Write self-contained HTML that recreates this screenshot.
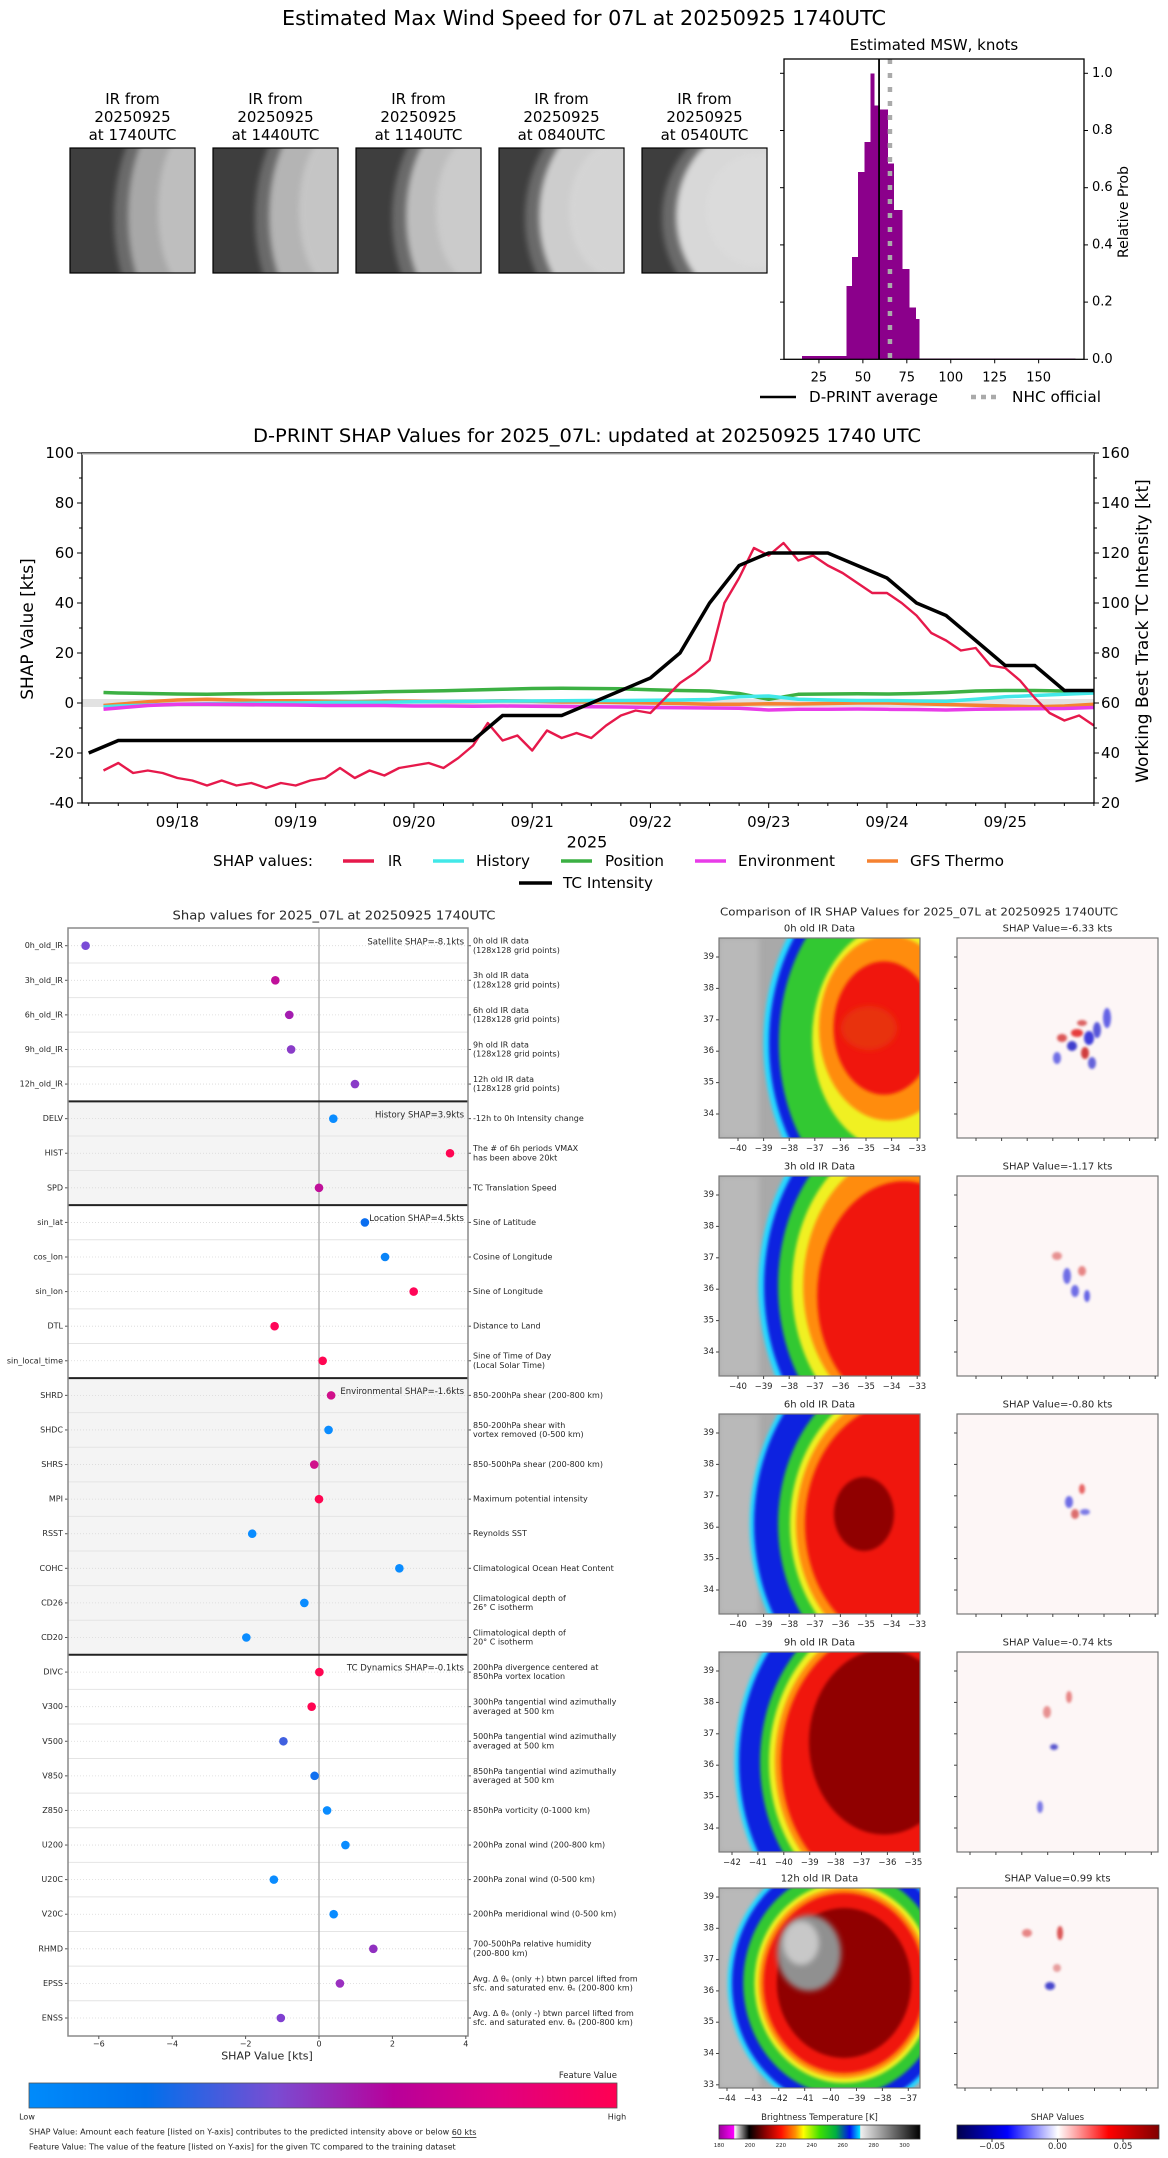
<!DOCTYPE html>
<html><head><meta charset="utf-8">
<style>
html,body{margin:0;padding:0;background:#fff}
svg{display:block}
text{font-family:"DejaVu Sans","Liberation Sans",sans-serif;fill:#000}
.g text{fill:#262626}
</style></head>
<body>
<svg id="root" width="1168" height="2158" viewBox="0 0 1168 2158" xmlns="http://www.w3.org/2000/svg">
<defs>
<filter id="blur3" x="-20%" y="-20%" width="140%" height="140%"><feGaussianBlur stdDeviation="3"/></filter>
<filter id="blur2" x="-20%" y="-20%" width="140%" height="140%"><feGaussianBlur stdDeviation="1.6"/></filter>
<filter id="blur1" x="-50%" y="-50%" width="200%" height="200%"><feGaussianBlur stdDeviation="1.2"/></filter>
<linearGradient id="featGrad" x1="0" x2="1" y1="0" y2="0">
<stop offset="0" stop-color="#008bfb"/><stop offset="0.2" stop-color="#0070ec"/><stop offset="0.42" stop-color="#7a4cd2"/><stop offset="0.62" stop-color="#b8009a"/><stop offset="0.8" stop-color="#e00080"/><stop offset="1" stop-color="#ff0052"/>
</linearGradient>
<linearGradient id="btGrad" x1="0" x2="1" y1="0" y2="0">
<stop offset="0" stop-color="#9a009a"/><stop offset="0.075" stop-color="#ff00ff"/><stop offset="0.077" stop-color="#ffffff"/><stop offset="0.15" stop-color="#000000"/><stop offset="0.23" stop-color="#8b0000"/><stop offset="0.31" stop-color="#ff1000"/><stop offset="0.38" stop-color="#ff9000"/><stop offset="0.42" stop-color="#ffff00"/><stop offset="0.5" stop-color="#40e000"/><stop offset="0.58" stop-color="#00b040"/><stop offset="0.65" stop-color="#0010f0"/><stop offset="0.7" stop-color="#00e0ff"/><stop offset="0.705" stop-color="#f0f0f0"/><stop offset="1" stop-color="#000000"/>
</linearGradient>
<linearGradient id="seisGrad" x1="0" x2="1" y1="0" y2="0">
<stop offset="0" stop-color="#00004c"/><stop offset="0.25" stop-color="#0000ff"/><stop offset="0.5" stop-color="#ffffff"/><stop offset="0.75" stop-color="#ff0000"/><stop offset="1" stop-color="#800000"/>
</linearGradient>
<clipPath id="shapClip"><rect x="82" y="453" width="1012" height="350"/></clipPath>
</defs>

<text x="584" y="25" font-size="20" text-anchor="middle" textLength="604" lengthAdjust="spacingAndGlyphs">Estimated Max Wind Speed for 07L at 20250925 1740UTC</text>

<g id="irThumbs"></g>
<g id="hist"></g>
<g id="shapTS"></g>
<g id="shapFeat" class="g"></g>
<g id="irComp" class="g"></g>
</svg>
<script>
// ---------- data ----------
const histEdges=[15.4,40.6,43.8,47.2,50.8,54.2,56.3,59.4,64.1,67.5,72.3,76.2,80.0,81.9,170.7];
const histProbs=[0.012,0.256,0.358,0.655,0.76,1.0,0.887,0.873,0.685,0.522,0.316,0.181,0.141,0.0035];
const histXTicks=[25,50,75,100,125,150];
const histYTicks=[0,0.2,0.4,0.6,0.8,1.0];
const dprintAverage=[59.2];
const nhcOfficial=[65.4];

const dateLabels=['09/18','09/19','09/20','09/21','09/22','09/23','09/24','09/25'];
const leftTicks=[-40,-20,0,20,40,60,80,100];
const rightTicks=[20,40,60,80,100,120,140,160];
const irStart=0.375, irStep=0.125;
const irShap=[-27,-24,-28,-27,-28,
 -30,-31,-33,-31,-33,-32,-34,-32,
 -33,-31,-30,-26,-30,-27,-29,-26,
 -25,-24,-26,-22,-17,-8,-15,-13,
 -19,-11,-14,-12,-14,-9,-5,-3,
 -4,2,8,12,17,40,50,62,
 59,64,57,59,55,52,48,44,
 44,40,35,28,25,21,22,15,
 14,9,2,-4,-7,-5,-9];
const lineTimes=[0.375,0.5,0.75,1,1.25,1.5,1.75,2,2.25,2.5,2.75,3,3.25,3.5,3.75,4,4.25,4.5,4.75,5,5.25,5.5,5.75,6,6.25,6.5,6.75,7,7.25,7.5,7.75,8,8.25,8.5,8.75];
const positionShap=[4.2,4.0,3.8,3.6,3.5,3.7,3.8,3.9,4.0,4.2,4.5,4.7,4.9,5.2,5.5,5.8,5.9,5.8,5.7,5.3,5.0,4.8,3.8,1.5,3.5,3.6,3.7,3.6,3.8,4.2,4.8,5.0,5.0,4.8,4.6];
const historyShap=[-1.5,-1.2,-0.8,-0.5,-0.3,-0.2,0,0,0.2,0.3,0.3,0.5,0.6,0.7,0.8,0.8,0.9,1.0,1.0,1.1,1.2,1.4,2.5,2.8,1.5,1.2,1.0,1.0,0.8,0.7,1.5,2.5,3.0,3.5,4.0];
const envShap=[-2.5,-2,-1,-0.5,-0.5,-0.6,-0.7,-0.8,-1,-1,-1,-1.2,-1.2,-1.3,-1.2,-1.3,-1.4,-1.5,-1.6,-1.8,-1.9,-2,-2.1,-2.8,-2.5,-2.5,-2.4,-2.5,-2.6,-2.8,-2.5,-2.4,-2.3,-2.2,-1.8];
const gfsShap=[-1,-0.5,0.5,1.2,1.5,1.2,0.9,0.9,0.7,0.5,0.8,0.7,0.5,0.6,0.9,0.7,0.4,0.4,0.2,0,-0.2,-0.5,-0.5,-0.3,-0.4,-0.2,0,0,-0.3,-0.6,-0.9,-1.2,-1.5,-1.2,-0.5];
const tcTimes=[0.25,0.5,3.5,3.75,4.25,5,5.25,5.5,5.75,6,6.5,7,7.25,7.5,7.75,8,8.25,8.5,8.75];
const tcIntensity=[40,45,45,55,55,70,80,100,115,120,120,110,100,95,85,75,75,65,65];

const featNames=['0h_old_IR','3h_old_IR','6h_old_IR','9h_old_IR','12h_old_IR','DELV','HIST','SPD','sin_lat','cos_lon','sin_lon','DTL','sin_local_time','SHRD','SHDC','SHRS','MPI','RSST','COHC','CD26','CD20','DIVC','V300','V500','V850','Z850','U200','U20C','V20C','RHMD','EPSS','ENSS'];
const featShap=[-6.36,-1.19,-0.81,-0.76,0.98,0.39,3.57,0,1.25,1.8,2.58,-1.21,0.1,0.33,0.26,-0.13,0,-1.82,2.19,-0.4,-1.98,0.01,-0.2,-0.97,-0.12,0.22,0.72,-1.23,0.4,1.48,0.57,-1.04];
const featColors=['#7a4cd6','#c0109a','#a41cb0','#8a3cc8','#8a3cc8','#0a8cff','#ff0552','#c0109a','#0a6ef0','#0a84f8','#ff0558','#ff0558','#ff0552','#d0108a','#0a8cff','#d0108a','#ff0552','#0a8cff','#0a8cff','#0a8cff','#0a8cff','#ff0552','#ff0552','#4060e0','#1070f0','#0a8cff','#0a8cff','#0a8cff','#0a8cff','#9030c0','#9a30c0','#8040d0'];
const featDescs=['0h old IR data\n(128x128 grid points)','3h old IR data\n(128x128 grid points)','6h old IR data\n(128x128 grid points)','9h old IR data\n(128x128 grid points)','12h old IR data\n(128x128 grid points)','-12h to 0h Intensity change','The # of 6h periods VMAX\nhas been above 20kt','TC Translation Speed','Sine of Latitude','Cosine of Longitude','Sine of Longitude','Distance to Land','Sine of Time of Day\n(Local Solar Time)','850-200hPa shear (200-800 km)','850-200hPa shear with\nvortex removed (0-500 km)','850-500hPa shear (200-800 km)','Maximum potential intensity','Reynolds SST','Climatological Ocean Heat Content','Climatological depth of\n26° C isotherm','Climatological depth of\n20° C isotherm','200hPa divergence centered at\n850hPa vortex location','300hPa tangential wind azimuthally\naveraged at 500 km','500hPa tangential wind azimuthally\naveraged at 500 km','850hPa tangential wind azimuthally\naveraged at 500 km','850hPa vorticity (0-1000 km)','200hPa zonal wind (200-800 km)','200hPa zonal wind (0-500 km)','200hPa meridional wind (0-500 km)','700-500hPa relative humidity\n(200-800 km)','Avg. Δ θₑ (only +) btwn parcel lifted from\nsfc. and saturated env. θₑ (200-800 km)','Avg. Δ θₑ (only -) btwn parcel lifted from\nsfc. and saturated env. θₑ (200-800 km)'];
const sectionLabels=['Satellite SHAP=-8.1kts','History SHAP=3.9kts','Location SHAP=4.5kts','Environmental SHAP=-1.6kts','TC Dynamics SHAP=-0.1kts'];
const sectionStarts=[0,5,8,13,21];
const sectionShaded=[false,true,false,true,false];
const featXTicks=[-6,-4,-2,0,2,4];

const irRowTitles=['0h old IR Data','3h old IR Data','6h old IR Data','9h old IR Data','12h old IR Data'];
const irRowShap=[-6.33,-1.17,-0.80,-0.74,0.99];
const irRowLonStart=[-40,-40,-40,-42,-44];
const irRowLatTop=[39,39,39,39,39];
const irRowLatCount=[6,6,6,6,7];
const btTicks=[180,200,220,240,260,280,300];
const seisTicks=[-0.05,0,0.05];

// ---------- helpers ----------
const NS='http://www.w3.org/2000/svg';
function mk(parent,tag,attrs,name,txt){
  const e=document.createElementNS(NS,tag);
  for(const k in attrs) e.setAttribute(k,attrs[k]);
  
  
  if(txt!==undefined) e.textContent=txt;
  parent.appendChild(e);
  return e;
}
function fmtMinus(v){return String(v).replace('-','\u2212');}

// ---------- IR thumbnails ----------
(function(){
  const g=document.getElementById('irThumbs');
  const xs=[70,213,356,499,642];
  const times=['1740','1440','1140','0840','0540'];
  const light=['#a8a8a8','#b4b4b4','#bdbdbd','#cdcdcd','#d8d8d8'];
  const cxs=[98,100,100,96,92], rxs=[62,66,72,78,80], rys=[120,118,115,108,96];
  for(let i=0;i<5;i++){
    const x0=xs[i], y0=148;
    const cid='thumbClip'+i;
    const cp=mk(g,'clipPath',{id:cid},'thumb-clip');
    mk(cp,'rect',{x:x0,y:y0,width:125,height:125},'thumb-clip-rect');
    const ig=mk(g,'g',{'clip-path':'url(#'+cid+')'},'ir-thumbnail-'+i);
    mk(ig,'rect',{x:x0,y:y0,width:125,height:125,fill:'#3e3e3e'},'thumb-bg');
    mk(ig,'ellipse',{cx:x0+cxs[i]+8,cy:y0+70,rx:rxs[i],ry:rys[i],fill:'#6a6a6a',filter:'url(#blur3)'},'thumb-cloud-edge');
    mk(ig,'ellipse',{cx:x0+cxs[i]+14,cy:y0+68,rx:rxs[i]-8,ry:rys[i]-8,fill:light[i],filter:'url(#blur3)'},'thumb-cloud');
    mk(ig,'ellipse',{cx:x0+cxs[i]+22,cy:y0+62,rx:rxs[i]-30,ry:rys[i]-40,fill:'#e0e0e0',opacity:0.4,filter:'url(#blur3)'},'thumb-cloud-core');
    mk(g,'rect',{x:x0,y:y0,width:125,height:125,fill:'none',stroke:'#000','stroke-width':1.2},'thumb-frame');
    const cx=x0+62.5;
    mk(g,'text',{x:cx,y:104,'font-size':15,'text-anchor':'middle'},'thumb-label-line1','IR from');
    mk(g,'text',{x:cx,y:122,'font-size':15,'text-anchor':'middle'},'thumb-label-line2','20250925');
    mk(g,'text',{x:cx,y:140,'font-size':15,'text-anchor':'middle'},'thumb-label-line3','at '+times[i]+'UTC');
  }
})();

// ---------- histogram ----------
(function(){
  const g=document.getElementById('hist');
  const hx=v=>775+v*1.7576, hy=p=>359.3-p*286;
  const L=784,R=1084,T=59,B=359.3;
  mk(g,'text',{x:934,y:50,'font-size':15,'text-anchor':'middle'},'histogram-title','Estimated MSW, knots');
  for(let i=0;i<histProbs.length;i++){
    const x1=hx(histEdges[i]), x2=hx(histEdges[i+1]);
    const r=mk(g,'rect',{x:x1,y:hy(histProbs[i]),width:x2-x1+0.4,height:B-hy(histProbs[i]),fill:'#8b008b','shape-rendering':'crispEdges'},'hist-bar');
  }
  mk(g,'line',{x1:hx(dprintAverage[0]),x2:hx(dprintAverage[0]),y1:T,y2:B,stroke:'#000','stroke-width':1.8},'dprint-average-line');
  mk(g,'line',{x1:hx(nhcOfficial[0]),x2:hx(nhcOfficial[0]),y1:T,y2:B,stroke:'#aaa','stroke-width':4.5,'stroke-dasharray':'5 9'},'nhc-official-line');
  mk(g,'rect',{x:L,y:T,width:R-L,height:B-T,fill:'none',stroke:'#000','stroke-width':1.3},'histogram-frame');
  histXTicks.forEach(v=>{
    mk(g,'line',{x1:hx(v),x2:hx(v),y1:B,y2:B+4,stroke:'#000'},'hist-x-tick');
    mk(g,'text',{x:hx(v),y:378,'font-size':13,'text-anchor':'middle','dominant-baseline':'central'},'hist-x-tick-label',String(v));
  });
  histYTicks.forEach(v=>{
    mk(g,'line',{x1:R,x2:R+4,y1:hy(v),y2:hy(v),stroke:'#000'},'hist-y-tick');
    mk(g,'line',{x1:L,x2:L-4,y1:hy(v),y2:hy(v),stroke:'#000'},'hist-y-tick-left');
    mk(g,'text',{x:R+8,y:hy(v),'font-size':13,'dominant-baseline':'central'},'hist-y-tick-label',v.toFixed(1));
  });
  mk(g,'text',{x:1124,y:212,'font-size':14,'text-anchor':'middle',transform:'rotate(-90 1124 212)','dominant-baseline':'central'},'hist-y-axis-title','Relative Prob');
  mk(g,'line',{x1:760,x2:796,y1:397,y2:397,stroke:'#000','stroke-width':2.5},'legend-dprint-swatch');
  mk(g,'text',{x:809,y:397,'font-size':15,'dominant-baseline':'central',textLength:129,lengthAdjust:'spacingAndGlyphs'},'legend-dprint-label','D-PRINT average');
  mk(g,'line',{x1:971,x2:1000,y1:397,y2:397,stroke:'#aaa','stroke-width':4.5,'stroke-dasharray':'5 5'},'legend-nhc-swatch');
  mk(g,'text',{x:1012,y:397,'font-size':15,'dominant-baseline':'central',textLength:89,lengthAdjust:'spacingAndGlyphs'},'legend-nhc-label','NHC official');
})();

// ---------- SHAP timeseries ----------
(function(){
  const g=document.getElementById('shapTS');
  const L=82,R=1094,T=453,B=803;
  const tx=t=>177.4+(t-1)*118.26;
  const yl=v=>B-(v+40)*2.5;
  const yr=k=>yl(k-60);
  mk(g,'text',{x:587,y:436,'font-size':19,'text-anchor':'middle','dominant-baseline':'central',textLength:668,lengthAdjust:'spacingAndGlyphs'},'timeseries-title','D-PRINT SHAP Values for 2025_07L: updated at 20250925 1740 UTC');
  mk(g,'rect',{x:L,y:yl(1.6),width:R-L,height:yl(-1.6)-yl(1.6),fill:'#e2e2e2'},'zero-band');
  const cg=mk(g,'g',{'clip-path':'url(#shapClip)'},'series-layer');
  function line(ts,vs,color,w,name){
    const pts=ts.map((t,i)=>tx(t).toFixed(1)+','+yl(vs[i]).toFixed(1));
    mk(cg,'path',{d:'M'+pts.join('L'),fill:'none',stroke:color,'stroke-width':w,'stroke-linejoin':'round'},name);
  }
  const irTimes=irShap.map((v,i)=>irStart+i*irStep);
  line(lineTimes,positionShap,'#3cb043',3.5,'position-line');
  line(lineTimes,gfsShap,'#f58231',3.5,'gfs-thermo-line');
  line(lineTimes,historyShap,'#42e8e8',3.5,'history-line');
  line(lineTimes,envShap,'#e83ce8',3.5,'environment-line');
  line(irTimes,irShap,'#e6194b',2.4,'ir-line');
  const tcPts=tcTimes.map((t,i)=>tx(t).toFixed(1)+','+yr(tcIntensity[i]).toFixed(1));
  mk(cg,'path',{d:'M'+tcPts.join('L'),fill:'none',stroke:'#000','stroke-width':3.5},'tc-intensity-line');
  mk(g,'rect',{x:L,y:T,width:R-L,height:B-T,fill:'none',stroke:'#000','stroke-width':1.3},'timeseries-frame');
  mk(g,'line',{x1:L,x2:R,y1:T+1,y2:T+1,stroke:'#ccc','stroke-width':1.5},'top-frame-shadow');
  for(let v=-40;v<=100;v+=10){
    const len=(v%20===0)?5:3;
    mk(g,'line',{x1:L-len,x2:L,y1:yl(v),y2:yl(v),stroke:'#000'},'left-y-tick');
  }
  leftTicks.forEach(v=>mk(g,'text',{x:L-8,y:yl(v),'font-size':15,'text-anchor':'end','dominant-baseline':'central'},'left-y-tick-label',String(v)));
  for(let k=20;k<=160;k+=10){
    const len=(k%20===0)?5:3;
    mk(g,'line',{x1:R,x2:R+len,y1:yr(k),y2:yr(k),stroke:'#000'},'right-y-tick');
  }
  rightTicks.forEach(k=>mk(g,'text',{x:R+7,y:yr(k),'font-size':15,'dominant-baseline':'central'},'right-y-tick-label',String(k)));
  for(let t=0.25;t<=8.75;t+=0.25){
    const major=Math.abs(t-Math.round(t))<1e-6;
    mk(g,'line',{x1:tx(t),x2:tx(t),y1:B,y2:B+(major?5:3),stroke:'#000'},'x-tick');
  }
  dateLabels.forEach((d,i)=>mk(g,'text',{x:tx(i+1),y:822,'font-size':15,'text-anchor':'middle','dominant-baseline':'central'},'x-tick-label',d));
  mk(g,'text',{x:587,y:842,'font-size':16,'text-anchor':'middle','dominant-baseline':'central'},'x-axis-title','2025');
  mk(g,'text',{x:28,y:629,'font-size':17,'text-anchor':'middle','dominant-baseline':'central',transform:'rotate(-90 28 629)'},'left-y-axis-title','SHAP Value [kts]');
  mk(g,'text',{x:1143,y:631,'font-size':17,'text-anchor':'middle','dominant-baseline':'central',transform:'rotate(-90 1143 631)'},'right-y-axis-title','Working Best Track TC Intensity [kt]');
  mk(g,'text',{x:213,y:861,'font-size':15,'dominant-baseline':'central',textLength:100,lengthAdjust:'spacingAndGlyphs'},'legend-title','SHAP values:');
  const leg=[['IR','#e6194b',343,388,14],['History','#42e8e8',433,476,54],['Position','#3cb043',561,605,59],['Environment','#e83ce8',695,738,97],['GFS Thermo','#f58231',867,910,94]];
  leg.forEach(l=>{
    mk(g,'line',{x1:l[2],x2:l[2]+31,y1:861,y2:861,stroke:l[1],'stroke-width':3.5},'legend-swatch-'+l[0].toLowerCase().replace(' ','-'));
    mk(g,'text',{x:l[3],y:861,'font-size':15,'dominant-baseline':'central',textLength:l[4],lengthAdjust:'spacingAndGlyphs'},'legend-label-'+l[0].toLowerCase().replace(' ','-'),l[0]);
  });
  mk(g,'line',{x1:519,x2:552,y1:883,y2:883,stroke:'#000','stroke-width':3.5},'legend-swatch-tc-intensity');
  mk(g,'text',{x:563,y:883,'font-size':15,'dominant-baseline':'central',textLength:90,lengthAdjust:'spacingAndGlyphs'},'legend-label-tc-intensity','TC Intensity');
})();

// ---------- feature SHAP panel ----------
(function(){
  const g=document.getElementById('shapFeat');
  const L=68,R=468,T=928,B=2036;
  const sx=v=>319+v*36.7;
  const ry=i=>945.7+i*34.59;
  mk(g,'text',{x:334,y:915,'font-size':12.5,'text-anchor':'middle','dominant-baseline':'central',textLength:323,lengthAdjust:'spacingAndGlyphs'},'feature-panel-title','Shap values for 2025_07L at 20250925 1740UTC');
  for(let s=0;s<sectionStarts.length;s++){
    const a=sectionStarts[s], b=(s+1<sectionStarts.length?sectionStarts[s+1]:featNames.length);
    const y1=(a===0)?T:ry(a)-17.3, y2=(b===featNames.length)?B:ry(b)-17.3;
    if(sectionShaded[s]) mk(g,'rect',{x:L,y:y1,width:R-L,height:y2-y1,fill:'#f4f4f4'},'section-shade');
  }
  for(let i=1;i<featNames.length;i++){
    mk(g,'line',{x1:L,x2:R,y1:ry(i)-17.3,y2:ry(i)-17.3,stroke:'#e4e4e4','stroke-width':1},'row-separator');
  }
  mk(g,'line',{x1:sx(0),x2:sx(0),y1:T,y2:B,stroke:'#a8a8a8','stroke-width':1.3},'zero-line');
  for(let i=0;i<featNames.length;i++){
    const y=ry(i);
    mk(g,'line',{x1:L,x2:R,y1:y,y2:y,stroke:'#d8d8d8','stroke-width':0.8,'stroke-dasharray':'1 2'},'row-guide');
    mk(g,'line',{x1:L-3,x2:L,y1:y,y2:y,stroke:'#555'},'feature-tick');
    mk(g,'line',{x1:R,x2:R+3,y1:y,y2:y,stroke:'#555'},'desc-tick');
    mk(g,'text',{x:L-5,y:y,'font-size':8,'text-anchor':'end','dominant-baseline':'central'},'feature-label',featNames[i]);
    const lines=featDescs[i].split('\n');
    lines.forEach((ln,j)=>{
      const yy=lines.length===1?y:y+(j===0?-4.6:4.6);
      mk(g,'text',{x:473,y:yy,'font-size':8,'dominant-baseline':'central'},'feature-description',ln);
    });
  }
  for(let s=1;s<sectionStarts.length;s++){
    const y=ry(sectionStarts[s])-17.3;
    mk(g,'line',{x1:L,x2:R,y1:y,y2:y,stroke:'#222','stroke-width':2},'section-divider');
  }
  sectionStarts.forEach((a,s)=>mk(g,'text',{x:464,y:ry(a)-3.4,'font-size':8.5,'text-anchor':'end','dominant-baseline':'central'},'section-label',sectionLabels[s]));
  featShap.forEach((v,i)=>mk(g,'circle',{cx:sx(v),cy:ry(i),r:4.3,fill:featColors[i]},'feature-dot-'+featNames[i].toLowerCase()));
  mk(g,'rect',{x:L,y:T,width:R-L,height:B-T,fill:'none',stroke:'#8a8a8a','stroke-width':1.5},'feature-panel-frame');
  featXTicks.forEach(v=>{
    mk(g,'line',{x1:sx(v),x2:sx(v),y1:B,y2:B+3,stroke:'#555'},'feature-x-tick');
    mk(g,'text',{x:sx(v),y:2044,'font-size':8,'text-anchor':'middle','dominant-baseline':'central'},'feature-x-tick-label',fmtMinus(v));
  });
  mk(g,'text',{x:267,y:2056,'font-size':11,'text-anchor':'middle','dominant-baseline':'central'},'feature-x-axis-title','SHAP Value [kts]');
  mk(g,'text',{x:617,y:2076,'font-size':8.5,'text-anchor':'end','dominant-baseline':'central'},'colorbar-title','Feature Value');
  mk(g,'rect',{x:29,y:2083,width:588,height:25,fill:'url(#featGrad)',stroke:'#555','stroke-width':0.8},'feature-value-colorbar');
  mk(g,'text',{x:27,y:2117,'font-size':8,'text-anchor':'middle','dominant-baseline':'central'},'colorbar-low-label','Low');
  mk(g,'text',{x:617,y:2117,'font-size':8,'text-anchor':'middle','dominant-baseline':'central'},'colorbar-high-label','High');
  const f1=mk(g,'text',{x:29,y:2132,'font-size':8,'dominant-baseline':'central'},'footnote-shap-value','SHAP Value: Amount each feature [listed on Y-axis] contributes to the predicted intensity above or below ');
  const ts=mk(f1,'tspan',{'text-decoration':'underline'},'footnote-60kts','60 kts');
  mk(g,'text',{x:29,y:2147,'font-size':8,'dominant-baseline':'central'},'footnote-feature-value','Feature Value: The value of the feature [listed on Y-axis] for the given TC compared to the training dataset');
})();

// ---------- IR / SHAP comparison ----------
const stormParams=[
 {cx:190,cy:105,rx:140,ry:185,sc:[1.04,1.0,0.93,0.62,0.5,0.36,0.0],off:[[0,0],[0,0],[0,0],[-10,-5],[-20,-15],[-25,-15],[0,0]]},
 {cx:185,cy:110,rx:140,ry:185,sc:[1.04,1.0,0.9,0.8,0.72,0.62,0.0],off:[[0,0],[0,0],[0,0],[0,0],[0,0],[0,10],[0,0]]},
 {cx:185,cy:110,rx:150,ry:185,sc:[1.03,1.0,0.84,0.76,0.72,0.66,0.2],off:[[0,0],[0,0],[0,0],[0,0],[0,0],[0,0],[-40,-10]]},
 {cx:170,cy:110,rx:150,ry:185,sc:[1.03,1.0,0.86,0.8,0.76,0.72,0.5],off:[[0,0],[0,0],[0,0],[0,0],[0,0],[0,0],[-5,-20]]},
 {cx:125,cy:95,rx:112,ry:125,sc:[1.04,1.0,0.9,0.8,0.76,0.72,0.6],off:[[0,0],[0,0],[0,0],[0,0],[0,0],[0,0],[0,0]]}
];
const stormColors=['#28d8ff','#0a24e0','#30c830','#f0f020','#ff8c10','#f01808','#900000'];
const shapBlobs=[
 [[120,95,6,4,'#e00000'],[132,100,5,7,'#0000d0'],[115,108,5,5,'#0000c0'],[128,115,4,6,'#c00000'],[140,92,4,8,'#2020d0'],[105,100,5,4,'#d02020'],[150,80,4,10,'#3030e0'],[100,120,4,6,'#4040e0'],[125,85,5,3,'#d03030'],[135,125,4,6,'#3030d0']],
 [[110,100,4,8,'#4040e0'],[125,95,4,5,'#e06060'],[118,115,4,6,'#4040e0'],[100,80,5,4,'#e07070'],[130,120,3,6,'#3030e0']],
 [[125,75,3,5,'#e03030'],[112,88,4,6,'#4040e0'],[118,100,4,5,'#d04040'],[128,98,5,3,'#5050e0']],
 [[97,95,4,3,'#2020c0'],[90,60,4,6,'#e07070'],[112,45,3,6,'#e06060'],[83,155,3,6,'#5050e0']],
 [[93,98,5,4,'#1010c0'],[103,45,3,7,'#d02020'],[70,45,5,4,'#e06060'],[100,80,4,4,'#e08080']]
];
(function(){
  const g=document.getElementById('irComp');
  const tops=[938,1176,1414,1652,1888];
  const IX=719, SX=957, W=201, H=200;
  mk(g,'text',{x:919,y:912,'font-size':11,'text-anchor':'middle','dominant-baseline':'central',textLength:398,lengthAdjust:'spacingAndGlyphs'},'comparison-title','Comparison of IR SHAP Values for 2025_07L at 20250925 1740UTC');
  tops.forEach((top,r)=>{
    mk(g,'text',{x:IX+W/2,y:top-9,'font-size':10,'text-anchor':'middle','dominant-baseline':'central'},'ir-panel-title',irRowTitles[r]);
    mk(g,'text',{x:SX+W/2,y:top-9,'font-size':10,'text-anchor':'middle','dominant-baseline':'central'},'shap-panel-title','SHAP Value='+irRowShap[r].toFixed(2)+' kts');
    const cid='irClip'+r;
    const cp=mk(g,'clipPath',{id:cid},'ir-clip');
    mk(cp,'rect',{x:IX,y:top,width:W,height:H},'ir-clip-rect');
    const ig=mk(g,'g',{'clip-path':'url(#'+cid+')'},'ir-image-'+r);
    mk(ig,'rect',{x:IX,y:top,width:W,height:H,fill:'#a9a9a9'},'ir-bg');
    mk(ig,'rect',{x:IX,y:top,width:40,height:H,fill:'#c4c4c4',opacity:0.6,filter:'url(#blur3)'},'ir-bg-light');
    const p=stormParams[r];
    p.sc.forEach((s,k)=>{
      if(s<=0) return;
      mk(ig,'ellipse',{cx:IX+p.cx+p.off[k][0],cy:top+p.cy+p.off[k][1],rx:p.rx*s,ry:p.ry*s,fill:stormColors[k],filter:'url(#blur2)'},'ir-layer');
    });
    if(r===4){
      mk(ig,'ellipse',{cx:IX+90,cy:top+65,rx:32,ry:38,fill:'#909090',filter:'url(#blur3)'},'ir-cold-core');
      mk(ig,'ellipse',{cx:IX+82,cy:top+55,rx:18,ry:22,fill:'#c8c8c8',filter:'url(#blur3)'},'ir-cold-core-inner');
    }
    if(r===0){
      mk(ig,'ellipse',{cx:IX+150,cy:top+90,rx:28,ry:22,fill:'#e83010',filter:'url(#blur3)'},'ir-red-patch');
    }
    mk(g,'rect',{x:IX,y:top,width:W,height:H,fill:'none',stroke:'#777','stroke-width':1.2},'ir-frame');
    // SHAP map
    const sg=mk(g,'g',{},'shap-map-'+r);
    mk(sg,'rect',{x:SX,y:top,width:W,height:H,fill:'#fdf6f6'},'shap-map-bg');
    shapBlobs[r].forEach(b=>mk(sg,'ellipse',{cx:SX+b[0],cy:top+b[1],rx:b[2],ry:b[3],fill:b[4],opacity:0.75,filter:'url(#blur1)'},'shap-blob'));
    mk(g,'rect',{x:SX,y:top,width:W,height:H,fill:'none',stroke:'#777','stroke-width':1.2},'shap-frame');
    // ticks
    const latTopY=(r===4)?top+9:top+19;
    const latStep=(r===4)?31.3:31.4;
    for(let k=0;k<irRowLatCount[r];k++){
      const y=latTopY+k*latStep;
      mk(g,'line',{x1:IX-3,x2:IX,y1:y,y2:y,stroke:'#444'},'lat-tick');
      mk(g,'line',{x1:SX-3,x2:SX,y1:y,y2:y,stroke:'#444'},'shap-lat-tick');
      mk(g,'text',{x:IX-5,y:y,'font-size':8.5,'text-anchor':'end','dominant-baseline':'central'},'lat-tick-label',String(irRowLatTop[r]-k));
    }
    const lon0=(r===3)?732:(r===4?727:738);
    const lonStep=(r===3)?25.9:(r===4?25.9:25.6);
    for(let k=0;k<8;k++){
      const x=lon0+k*lonStep;
      mk(g,'line',{x1:x,x2:x,y1:top+H,y2:top+H+3,stroke:'#444'},'lon-tick');
      mk(g,'line',{x1:x-IX+SX,x2:x-IX+SX,y1:top+H,y2:top+H+3,stroke:'#444'},'shap-lon-tick');
      mk(g,'text',{x:x,y:top+H+11,'font-size':8.5,'text-anchor':'middle','dominant-baseline':'central'},'lon-tick-label',fmtMinus(irRowLonStart[r]+k));
    }
  });
  // colorbars
  mk(g,'text',{x:IX+W/2,y:2118,'font-size':8.5,'text-anchor':'middle','dominant-baseline':'central'},'bt-colorbar-title','Brightness Temperature [K]');
  mk(g,'rect',{x:IX,y:2125,width:W,height:14,fill:'url(#btGrad)',stroke:'#333','stroke-width':0.8},'bt-colorbar');
  btTicks.forEach(v=>{
    const x=IX+(v-180)/130*W;
    mk(g,'text',{x:x,y:2146,'font-size':5.5,'text-anchor':'middle','dominant-baseline':'central'},'bt-tick-label',String(v));
  });
  mk(g,'text',{x:SX+W/2,y:2118,'font-size':8.5,'text-anchor':'middle','dominant-baseline':'central'},'shap-colorbar-title','SHAP Values');
  mk(g,'rect',{x:SX,y:2125,width:W+1,height:14,fill:'url(#seisGrad)',stroke:'#333','stroke-width':0.8},'shap-colorbar');
  seisTicks.forEach(v=>{
    const x=1057.5+v*1310;
    mk(g,'line',{x1:x,x2:x,y1:2139,y2:2142,stroke:'#333'},'shap-cbar-tick');
    mk(g,'text',{x:x,y:2147,'font-size':8.5,'text-anchor':'middle','dominant-baseline':'central'},'shap-cbar-tick-label',fmtMinus(v.toFixed(2)));
  });
})();
</script>
</body></html>
